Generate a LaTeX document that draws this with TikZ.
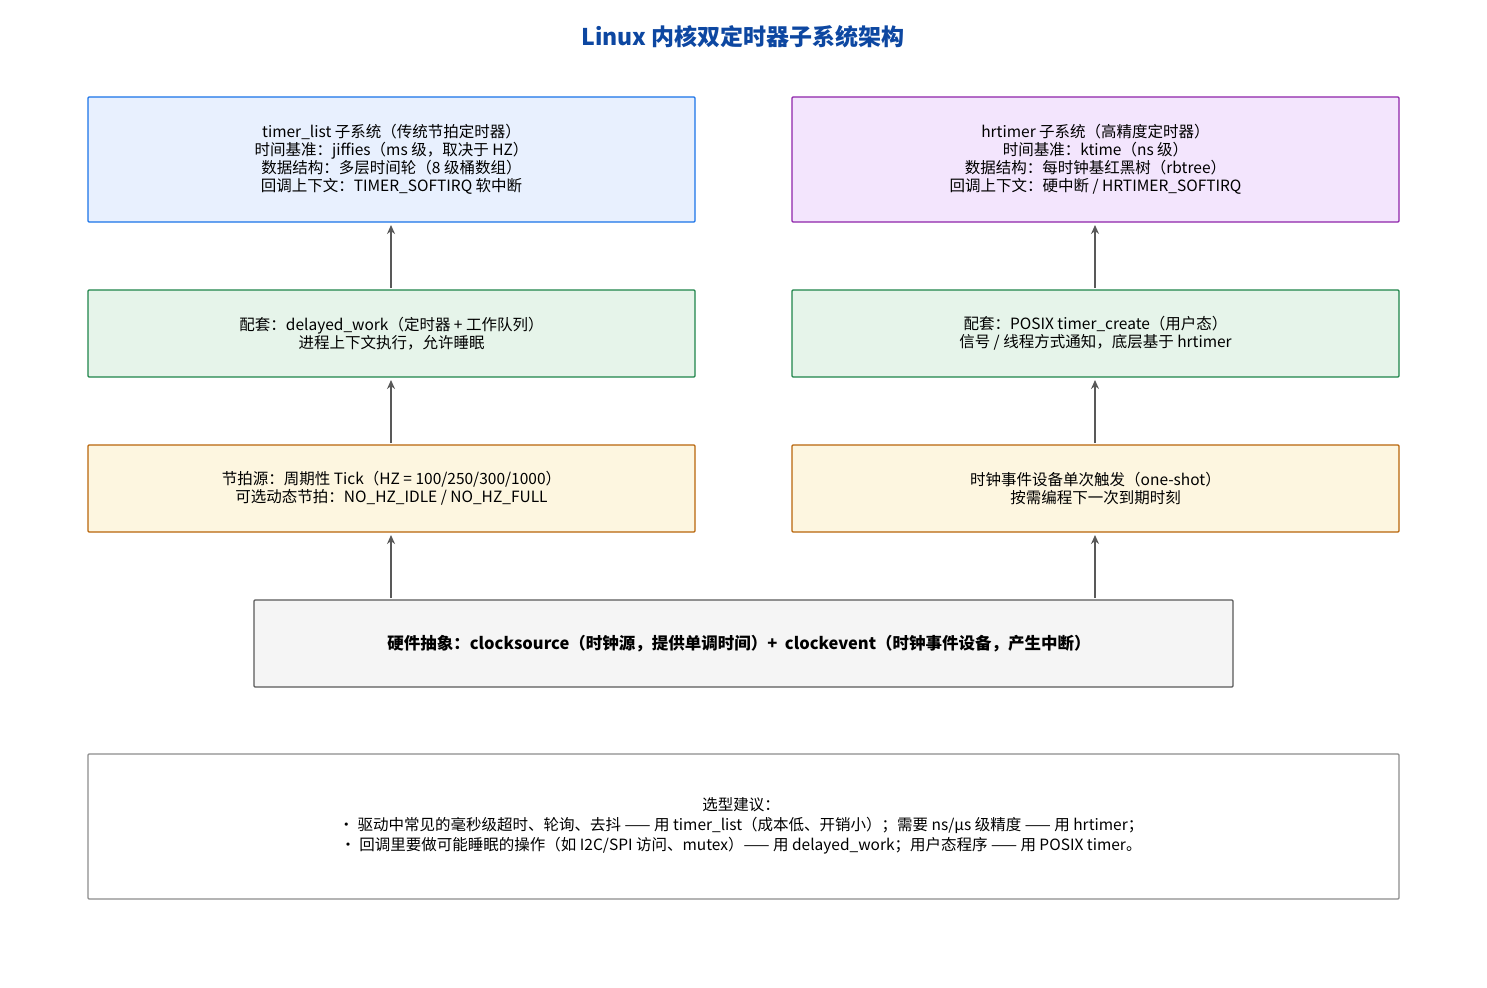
\documentclass[tikz,border=0pt]{standalone}
\usepackage{fontspec}
\setmainfont{Noto Sans CJK SC}
\usetikzlibrary{arrows.meta}
\definecolor{tblue}{HTML}{0D47A1}
\definecolor{b1}{HTML}{1A73E8}\definecolor{f1}{HTML}{E8F0FE}
\definecolor{b2}{HTML}{8E24AA}\definecolor{f2}{HTML}{F3E5FD}
\definecolor{b3}{HTML}{1E8449}\definecolor{f3}{HTML}{E6F4EA}
\definecolor{b4}{HTML}{B8650A}\definecolor{f4}{HTML}{FDF6E0}
\begin{document}
\begin{tikzpicture}[x=1pt,y=-1pt,
  box/.style={draw,line width=1.3pt,rounded corners=1pt},
  txt/.style={align=center,font=\fontsize{15.5}{18}\selectfont,inner sep=0pt},
  arr/.style={draw=black!65,line width=1.6pt,-{Stealth[length=9pt,width=8pt]}}]
\useasboundingbox (0,0) rectangle (1487,987);
\node[font=\fontsize{23}{26}\selectfont\bfseries,text=tblue] (title) at (743,37) {Linux 内核双定时器子系统架构};
\path[box,draw=b1,fill=f1] (88,97) rectangle (695,222);
\node[txt] (tl) at (391.5,159.5) {timer\_list 子系统（传统节拍定时器）\\时间基准：jiffies（ms 级，取决于 HZ）\\数据结构：多层时间轮（8 级桶数组）\\回调上下文：TIMER\_SOFTIRQ 软中断};
\path[box,draw=b2,fill=f2] (792,97) rectangle (1399,222);
\node[txt] (tr) at (1095.5,159.5) {hrtimer 子系统（高精度定时器）\\时间基准：ktime（ns 级）\\数据结构：每时钟基红黑树（rbtree）\\回调上下文：硬中断 / HRTIMER\_SOFTIRQ};
\path[box,draw=b3,fill=f3] (88,290) rectangle (695,377);
\node[txt] (ml) at (391.5,333.5) {配套：delayed\_work（定时器 + 工作队列）\\进程上下文执行，允许睡眠};
\path[box,draw=b3,fill=f3] (792,290) rectangle (1399,377);
\node[txt] (mr) at (1095.5,333.5) {配套：POSIX timer\_create（用户态）\\信号 / 线程方式通知，底层基于 hrtimer};
\path[box,draw=b4,fill=f4] (88,445) rectangle (695,532);
\node[txt] (ll) at (391.5,488.5) {节拍源：周期性 Tick（HZ = 100/250/300/1000）\\可选动态节拍：NO\_HZ\_IDLE / NO\_HZ\_FULL};
\path[box,draw=b4,fill=f4] (792,445) rectangle (1399,532);
\node[txt] (lr) at (1095.5,488.5) {时钟事件设备单次触发（one-shot）\\按需编程下一次到期时刻};
\path[box,draw=black!65,fill=black!4] (254,600) rectangle (1233,687);
\node[txt,font=\fontsize{16.5}{18}\selectfont\bfseries] (hw) at (739,643.5) {硬件抽象：clocksource（时钟源，提供单调时间）+\ \ clockevent（时钟事件设备，产生中断）};
\path[box,draw=black!45,fill=white] (88,754) rectangle (1399,899);
\node[txt,font=\fontsize{15.5}{20}\selectfont] (note) at (741,826) {选型建议：\\• 驱动中常见的毫秒级超时、轮询、去抖 —— 用 timer\_list（成本低、开销小）；需要 ns/µs 级精度 —— 用 hrtimer；\\• 回调里要做可能睡眠的操作（如 I2C/SPI 访问、mutex）—— 用 delayed\_work；用户态程序 —— 用 POSIX timer。};
\coordinate (a1) at (391,598); \coordinate (a1e) at (391,535);
\coordinate (a2) at (391,443); \coordinate (a2e) at (391,380);
\coordinate (a3) at (391,288); \coordinate (a3e) at (391,225);
\coordinate (c1) at (1095,598); \coordinate (c1e) at (1095,535);
\coordinate (c2) at (1095,443); \coordinate (c2e) at (1095,380);
\coordinate (c3) at (1095,288); \coordinate (c3e) at (1095,225);
\draw[arr] (a1)--(a1e); \draw[arr] (a2)--(a2e); \draw[arr] (a3)--(a3e);
\draw[arr] (c1)--(c1e); \draw[arr] (c2)--(c2e); \draw[arr] (c3)--(c3e);
\end{tikzpicture}
\end{document}
